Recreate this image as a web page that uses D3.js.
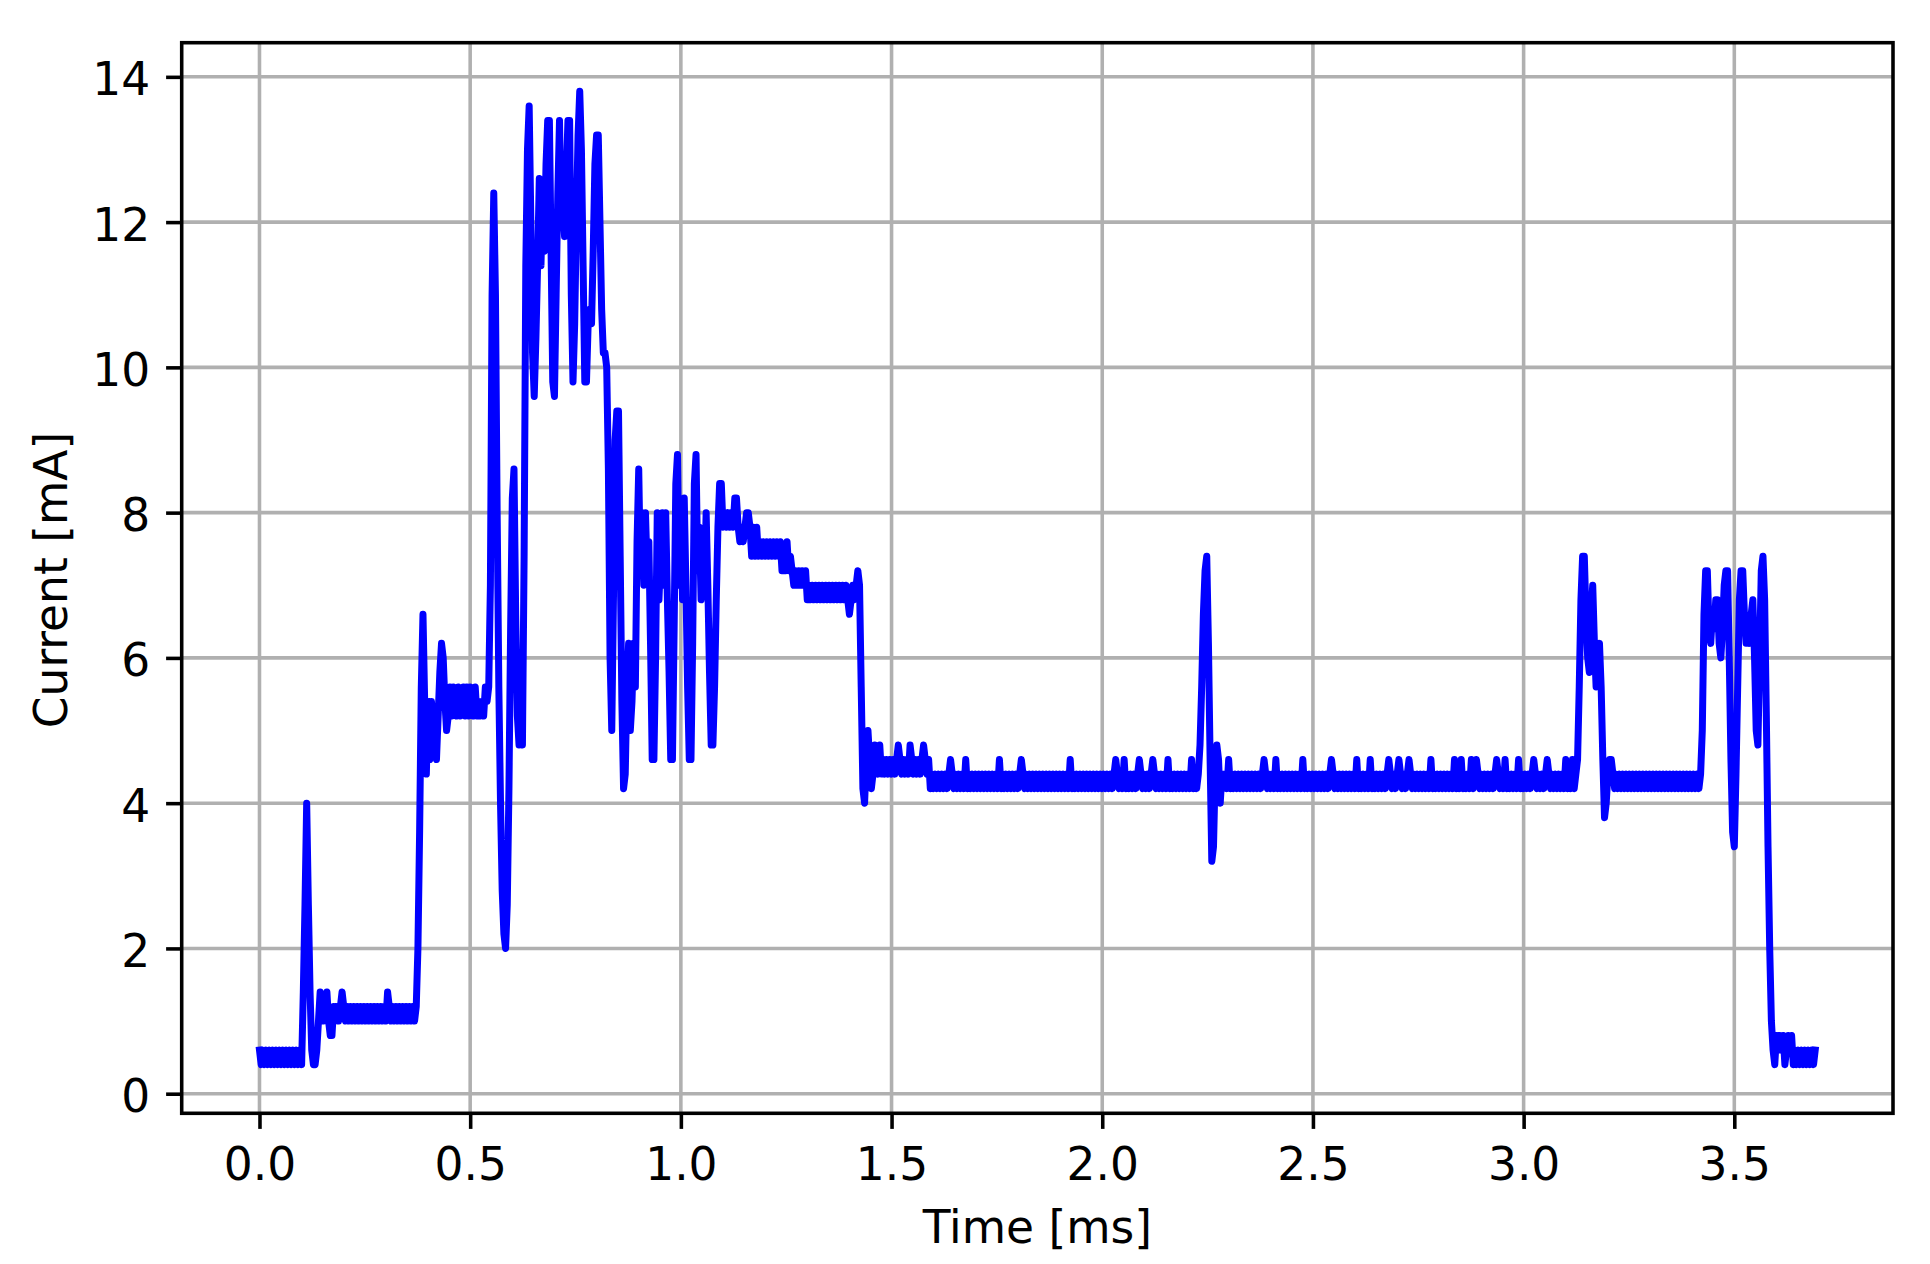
<!DOCTYPE html>
<html><head><meta charset="utf-8">
<script src="https://cdn.jsdelivr.net/npm/d3@7"></script>
<style>
html,body{margin:0;padding:0;background:#fff;}
svg{display:block;}
</style></head>
<body><svg id="chart" width="1930" height="1264"></svg>
<script>
// ---- data ----
const sampleStepMs = 0.004; // time between samples [ms]
const currentStartup = [ // i 0-139
0.6,0.4,0.6,0.4,0.6,0.4,0.6,0.4,0.6,0.4,
0.6,0.4,0.6,0.4,0.6,0.4,0.6,0.4,0.6,0.4,
0.6,0.4,0.6,0.4,0.6,0.4,1.4,2.6,4.0,2.6,
1.4,0.6,0.4,0.4,0.6,1.0,1.4,1.2,1.0,1.2,
1.4,1.0,0.8,0.8,1.2,1.0,1.2,1.0,1.2,1.4,
1.2,1.0,1.2,1.0,1.2,1.0,1.2,1.0,1.2,1.0,
1.2,1.0,1.2,1.0,1.2,1.0,1.2,1.0,1.2,1.0,
1.2,1.0,1.2,1.0,1.2,1.0,1.4,1.2,1.0,1.2,
1.0,1.2,1.0,1.2,1.0,1.2,1.0,1.2,1.0,1.2,
1.0,1.2,1.0,1.2,2.0,3.6,5.6,6.6,5.4,4.4,
5.4,4.6,5.4,5.2,4.8,4.6,5.2,5.8,6.2,6.0,
5.4,5.0,5.2,5.6,5.2,5.6,5.4,5.2,5.6,5.2,
5.4,5.6,5.2,5.6,5.2,5.6,5.4,5.2,5.6,5.2,
5.4,5.2,5.4,5.2,5.6,5.4,5.6,7.0,11.0,12.4];
const currentBurst = [ // i 140-359
11.0,8.0,5.6,4.0,2.8,2.2,2.0,2.6,4.2,6.4,
8.2,8.6,6.6,5.2,4.8,5.0,4.8,7.4,11.4,13.0,
13.6,12.0,10.2,9.6,10.4,11.4,12.6,11.4,12.4,11.6,
12.8,13.4,13.4,11.6,9.8,9.6,11.0,12.4,13.4,12.0,
12.2,11.8,12.6,13.4,13.4,11.0,9.8,10.6,12.0,13.2,
13.8,13.0,11.4,9.8,9.8,10.6,10.8,10.6,11.6,12.8,
13.2,13.2,12.0,10.8,10.2,10.2,10.0,8.6,6.0,5.0,
6.8,9.0,9.4,9.4,7.4,5.4,4.2,4.4,5.6,6.2,
5.0,5.4,6.2,5.6,7.6,8.6,7.2,8.0,7.0,8.0,
7.2,7.6,6.2,4.6,4.6,6.0,8.0,6.8,7.4,8.0,
7.0,8.0,6.8,5.8,4.6,4.6,6.4,8.4,8.8,7.0,
8.0,6.8,8.2,7.0,5.6,4.6,4.6,6.2,8.4,8.8,
7.2,7.8,6.8,7.6,7.0,8.0,7.0,5.8,4.8,4.8,
5.6,6.8,7.8,8.4,8.4,7.8,8.0,7.8,8.0,7.8,
8.0,7.8,8.2,8.2,7.8,7.6,7.8,7.6,7.8,8.0,
8.0,7.8,7.4,7.8,7.4,7.8,7.4,7.6,7.4,7.6,
7.4,7.6,7.4,7.6,7.4,7.6,7.4,7.6,7.4,7.6,
7.2,7.4,7.2,7.6,7.2,7.4,7.2,7.0,7.2,7.0,
7.2,7.0,7.2,7.0,7.2,6.8,7.0,6.8,7.0,6.8,
7.0,6.8,7.0,6.8,7.0,6.8,7.0,6.8,7.0,6.8,
7.0,6.8,7.0,6.8,7.0,6.8,7.0,6.8,7.0,6.8,
6.6,6.8,7.0,6.8,7.0,7.2,7.0,5.6,4.2,4.0];
const currentIdle = [ // i 360-779
4.6,5.0,4.6,4.2,4.4,4.8,4.6,4.4,4.8,4.4,
4.6,4.4,4.6,4.4,4.6,4.4,4.6,4.4,4.6,4.8,
4.6,4.4,4.6,4.4,4.6,4.4,4.8,4.6,4.4,4.6,
4.4,4.6,4.4,4.6,4.8,4.6,4.4,4.6,4.2,4.4,
4.2,4.4,4.2,4.4,4.2,4.4,4.2,4.4,4.2,4.4,
4.6,4.4,4.2,4.4,4.2,4.4,4.2,4.4,4.2,4.6,
4.2,4.4,4.2,4.4,4.2,4.4,4.2,4.4,4.2,4.4,
4.2,4.4,4.2,4.4,4.2,4.4,4.2,4.4,4.2,4.6,
4.2,4.4,4.2,4.4,4.2,4.4,4.2,4.4,4.2,4.4,
4.2,4.4,4.6,4.4,4.2,4.4,4.2,4.4,4.2,4.4,
4.2,4.4,4.2,4.4,4.2,4.4,4.2,4.4,4.2,4.4,
4.2,4.4,4.2,4.4,4.2,4.4,4.2,4.4,4.2,4.4,
4.2,4.6,4.2,4.4,4.2,4.4,4.2,4.4,4.2,4.4,
4.2,4.4,4.2,4.4,4.2,4.4,4.2,4.4,4.2,4.4,
4.2,4.4,4.2,4.4,4.2,4.4,4.2,4.4,4.6,4.4,
4.2,4.4,4.2,4.6,4.2,4.4,4.2,4.4,4.2,4.4,
4.2,4.4,4.6,4.4,4.2,4.4,4.2,4.4,4.2,4.4,
4.6,4.4,4.2,4.4,4.2,4.4,4.2,4.4,4.2,4.6,
4.2,4.4,4.2,4.4,4.2,4.4,4.2,4.4,4.2,4.4,
4.2,4.4,4.2,4.6,4.2,4.4,4.2,4.4,4.8,5.6,
6.6,7.2,7.4,6.2,4.6,3.2,3.4,4.4,4.8,4.6,
4.0,4.4,4.2,4.4,4.2,4.6,4.2,4.4,4.2,4.4,
4.2,4.4,4.2,4.4,4.2,4.4,4.2,4.4,4.2,4.4,
4.2,4.4,4.2,4.4,4.2,4.4,4.6,4.4,4.2,4.4,
4.2,4.4,4.2,4.6,4.2,4.4,4.2,4.4,4.2,4.4,
4.2,4.4,4.2,4.4,4.2,4.4,4.2,4.4,4.2,4.6,
4.2,4.4,4.2,4.4,4.2,4.4,4.2,4.4,4.2,4.4,
4.2,4.4,4.2,4.4,4.2,4.4,4.6,4.4,4.2,4.4,
4.2,4.4,4.2,4.4,4.2,4.4,4.2,4.4,4.2,4.4,
4.2,4.6,4.2,4.4,4.2,4.4,4.2,4.4,4.2,4.6,
4.2,4.4,4.2,4.4,4.2,4.4,4.2,4.4,4.2,4.4,
4.6,4.4,4.2,4.4,4.2,4.4,4.6,4.4,4.2,4.4,
4.2,4.4,4.6,4.4,4.2,4.4,4.2,4.4,4.2,4.4,
4.2,4.4,4.2,4.4,4.2,4.6,4.2,4.4,4.2,4.4,
4.2,4.4,4.2,4.4,4.2,4.4,4.2,4.4,4.2,4.6,
4.2,4.4,4.2,4.6,4.2,4.4,4.2,4.4,4.2,4.6,
4.2,4.4,4.6,4.4,4.2,4.4,4.2,4.4,4.2,4.4,
4.2,4.4,4.2,4.4,4.6,4.4,4.2,4.4,4.2,4.6,
4.2,4.4,4.2,4.4,4.2,4.4,4.2,4.6,4.2,4.4,
4.2,4.4,4.2,4.4,4.2,4.4,4.6,4.4,4.2,4.4,
4.2,4.4,4.2,4.4,4.6,4.4,4.2,4.4,4.2,4.4,
4.2,4.4,4.2,4.4,4.2,4.6,4.2,4.4,4.2,4.6];
const currentTail = [ // i 780-923
4.2,4.4,4.6,5.6,6.8,7.4,7.4,6.6,6.0,5.8,
6.6,7.0,6.2,5.6,6.0,6.2,5.6,4.6,3.8,4.0,
4.4,4.6,4.6,4.4,4.2,4.4,4.2,4.4,4.2,4.4,
4.2,4.4,4.2,4.4,4.2,4.4,4.2,4.4,4.2,4.4,
4.2,4.4,4.2,4.4,4.2,4.4,4.2,4.4,4.2,4.4,
4.2,4.4,4.2,4.4,4.2,4.4,4.2,4.4,4.2,4.4,
4.2,4.4,4.2,4.4,4.2,4.4,4.2,4.4,4.2,4.4,
4.2,4.4,4.2,4.4,4.2,4.4,5.0,6.6,7.2,7.2,
6.4,6.2,6.6,6.4,6.8,6.8,6.2,6.0,6.4,7.0,
7.2,7.2,6.0,4.6,3.6,3.4,4.4,5.6,6.8,7.2,
7.2,6.6,6.2,6.4,6.2,6.6,6.8,6.0,5.0,4.8,
6.0,7.2,7.4,6.8,5.2,3.4,2.0,1.0,0.6,0.4,
0.8,0.6,0.8,0.6,0.8,0.4,0.6,0.8,0.6,0.8,
0.4,0.6,0.4,0.6,0.4,0.6,0.4,0.6,0.4,0.6,
0.4,0.6,0.4,0.6];
const xTicks = [0.0, 0.5, 1.0, 1.5, 2.0, 2.5, 3.0, 3.5];
const yTicks = [0, 2, 4, 6, 8, 10, 12, 14];
const xLabel = "Time [ms]";
const yLabel = "Current [mA]";

// ---- layout ----
const W = 1930, H = 1264;
const plot = {left: 181.7, top: 42.7, right: 1893, bottom: 1113.3};
const FONT = "'DejaVu Sans', sans-serif";
const FS = 45.5;
const LW_AXIS = 3.57, TICK_LEN = 15.6;

const values = [].concat(currentStartup, currentBurst, currentIdle, currentTail);
const data = values.map((v, i) => ({t: i * sampleStepMs, v: v}));

const tExt = d3.extent(data, d => d.t), vExt = d3.extent(data, d => d.v);
const padT = (tExt[1] - tExt[0]) * 0.05, padV = (vExt[1] - vExt[0]) * 0.05;
const x = d3.scaleLinear().domain([tExt[0] - padT, tExt[1] + padT]).range([plot.left, plot.right]);
const y = d3.scaleLinear().domain([vExt[0] - padV, vExt[1] + padV]).range([plot.bottom, plot.top]);

const svg = d3.select("#chart");
svg.append("rect").attr("width", W).attr("height", H).attr("fill", "#fff");

// grid
const grid = svg.append("g");
grid.selectAll("line.gx").data(xTicks).join("line").attr("class", "gx")
  .attr("x1", d => x(d)).attr("x2", d => x(d)).attr("y1", plot.top).attr("y2", plot.bottom)
  .attr("stroke", "#b0b0b0").attr("stroke-width", LW_AXIS);
grid.selectAll("line.gy").data(yTicks).join("line").attr("class", "gy")
  .attr("y1", d => y(d)).attr("y2", d => y(d)).attr("x1", plot.left).attr("x2", plot.right)
  .attr("stroke", "#b0b0b0").attr("stroke-width", LW_AXIS);

// clip
svg.append("defs").append("clipPath").attr("id", "clip").append("rect")
  .attr("x", plot.left).attr("y", plot.top).attr("width", plot.right - plot.left).attr("height", plot.bottom - plot.top);

// data line
svg.append("path").datum(data)
  .attr("clip-path", "url(#clip)")
  .attr("d", d3.line().x(d => x(d.t)).y(d => y(d.v)))
  .attr("fill", "none").attr("stroke", "#0000ff").attr("stroke-width", 7)
  .attr("stroke-linejoin", "round").attr("stroke-linecap", "square");

// axes
const gx = svg.append("g").attr("transform", `translate(0,${plot.bottom})`)
  .call(d3.axisBottom(x).tickValues(xTicks).tickFormat(d3.format(".1f")).tickSize(TICK_LEN));
gx.select(".domain").remove();
gx.attr("font-size", null).attr("font-family", null);
gx.selectAll(".tick line").attr("stroke", "#000").attr("stroke-width", LW_AXIS);
gx.selectAll(".tick text").attr("y", 66.7).attr("dy", null)
  .attr("fill", "#000").style("font-family", FONT).style("font-size", FS + "px");

const gy = svg.append("g").attr("transform", `translate(${plot.left},0)`)
  .call(d3.axisLeft(y).tickValues(yTicks).tickFormat(d3.format("d")).tickSize(TICK_LEN));
gy.select(".domain").remove();
gy.attr("font-size", null).attr("font-family", null);
gy.selectAll(".tick line").attr("stroke", "#000").attr("stroke-width", LW_AXIS);
gy.selectAll(".tick text").attr("x", -31.5).attr("dy", 18)
  .attr("fill", "#000").style("font-family", FONT).style("font-size", FS + "px");

// spines
svg.append("rect").attr("x", plot.left).attr("y", plot.top)
  .attr("width", plot.right - plot.left).attr("height", plot.bottom - plot.top)
  .attr("fill", "none").attr("stroke", "#000").attr("stroke-width", LW_AXIS);

// axis labels
svg.append("text").text(xLabel)
  .attr("x", (plot.left + plot.right) / 2).attr("y", 1242.5)
  .attr("text-anchor", "middle").attr("fill", "#000")
  .style("font-family", FONT).style("font-size", FS + "px");
svg.append("text").text(yLabel)
  .attr("transform", `translate(67,${(plot.top + plot.bottom) / 2 + 2}) rotate(-90)`)
  .attr("text-anchor", "middle").attr("fill", "#000")
  .style("font-family", FONT).style("font-size", FS + "px");
</script>
</body></html>
